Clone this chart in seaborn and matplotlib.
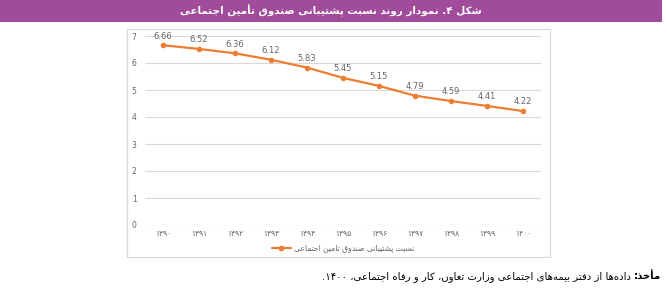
import re
import numpy as np
import pandas as pd
import seaborn as sns
import matplotlib.pyplot as plt
from matplotlib.patches import Rectangle

# ---- data ----
years = [1390, 1391, 1392, 1393, 1394, 1395, 1396, 1397, 1398, 1399, 1400]
ratio = [6.66, 6.52, 6.36, 6.12, 5.83, 5.45, 5.15, 4.79, 4.59, 4.41, 4.22]

title_text = "شکل ۴. نمودار روند نسبت پشتیبانی صندوق تأمین اجتماعی"
legend_text = "نسبت پشتیبانی صندوق تامین اجتماعی"
source_head = "مأخذ:"
source_body = " داده\u200cها از دفتر بیمه\u200cهای اجتماعی وزارت تعاون، کار و رفاه اجتماعی، ۱۴۰۰."

# ---- minimal arabic shaping (matplotlib has no text shaping / bidi) ----
FORMS = {
    'ا': ('\uFE8D', '\uFE8E', None, None),
    'أ': ('\uFE83', '\uFE84', None, None),
    'ب': ('\uFE8F', '\uFE90', '\uFE91', '\uFE92'),
    'پ': ('\uFB56', '\uFB57', '\uFB58', '\uFB59'),
    'ت': ('\uFE95', '\uFE96', '\uFE97', '\uFE98'),
    'ج': ('\uFE9D', '\uFE9E', '\uFE9F', '\uFEA0'),
    'خ': ('\uFEA5', '\uFEA6', '\uFEA7', '\uFEA8'),
    'د': ('\uFEA9', '\uFEAA', None, None),
    'ذ': ('\uFEAB', '\uFEAC', None, None),
    'ر': ('\uFEAD', '\uFEAE', None, None),
    'ز': ('\uFEAF', '\uFEB0', None, None),
    'س': ('\uFEB1', '\uFEB2', '\uFEB3', '\uFEB4'),
    'ش': ('\uFEB5', '\uFEB6', '\uFEB7', '\uFEB8'),
    'ص': ('\uFEB9', '\uFEBA', '\uFEBB', '\uFEBC'),
    'ع': ('\uFEC9', '\uFECA', '\uFECB', '\uFECC'),
    'ف': ('\uFED1', '\uFED2', '\uFED3', '\uFED4'),
    'ق': ('\uFED5', '\uFED6', '\uFED7', '\uFED8'),
    'ک': ('\uFB8E', '\uFB8F', '\uFB90', '\uFB91'),
    'ل': ('\uFEDD', '\uFEDE', '\uFEDF', '\uFEE0'),
    'م': ('\uFEE1', '\uFEE2', '\uFEE3', '\uFEE4'),
    'ن': ('\uFEE5', '\uFEE6', '\uFEE7', '\uFEE8'),
    'ه': ('\uFEE9', '\uFEEA', '\uFEEB', '\uFEEC'),
    'و': ('\uFEED', '\uFEEE', None, None),
    'ی': ('\uFBFC', '\uFBFD', '\uFBFE', '\uFBFF'),
}


def rtl(s):
    out = []
    for i, c in enumerate(s):
        if c not in FORMS:
            out.append(c)
            continue
        prev = s[i - 1] if i > 0 else ''
        nxt = s[i + 1] if i + 1 < len(s) else ''
        jp = prev in FORMS and FORMS[prev][2] is not None
        jn = FORMS[c][2] is not None and nxt in FORMS
        iso, fin, ini, med = FORMS[c]
        out.append(med if jp and jn else fin if jp else ini if jn else iso)
    shaped = ''.join(out).replace('\u200c', '')
    runs = re.findall(r'[0-9۰-۹]+|[^0-9۰-۹]+', shaped)
    return ''.join(r if r[0] in '0123456789۰۱۲۳۴۵۶۷۸۹' else r[::-1]
                   for r in reversed(runs))


def fa_digits(n):
    return str(n).translate(str.maketrans('0123456789', '۰۱۲۳۴۵۶۷۸۹'))


# ---- figure ----
sns.set_style("white")
plt.rcParams['font.family'] = ['DejaVu Sans']

W, H = 667, 293
fig = plt.figure(figsize=(W / 100, H / 100), dpi=100)
fig.patch.set_facecolor('white')

# title bar
fig.patches.append(Rectangle((0, 1 - 22 / H), 662 / W, 22 / H, transform=fig.transFigure,
                             facecolor='#A14C9A', edgecolor='none', zorder=0))
fig.text(331 / W, 1 - 11 / H, rtl(title_text), color='white', fontsize=7.5,
         fontweight='bold', ha='center', va='center')

# chart border
fig.patches.append(Rectangle((127 / W, 1 - 257 / H), 423 / W, 228 / H, transform=fig.transFigure,
                             fill=False, edgecolor='#D9D9D9', linewidth=0.9, zorder=0))

ax = fig.add_axes([145 / W, 1 - 225 / H, 396 / W, 189 / H])
df = pd.DataFrame({'pos': np.arange(len(years)), 'ratio': ratio})
sns.lineplot(data=df, x='pos', y='ratio', marker='o', color='#ED7D31', linewidth=1.6,
             markersize=4, markeredgewidth=0, ax=ax, label=rtl(legend_text))

for i, v in enumerate(ratio):
    ax.text(i, v + 0.17, f"{v:.2f}", ha='center', va='bottom', fontsize=6, color='#666666')

ax.set_xlim(-0.5, len(years) - 0.5)
ax.set_ylim(0, 7)
ax.set_yticks(range(0, 8))
ax.set_xticks(range(len(years)))
ax.set_xticklabels([fa_digits(y) for y in years])
ax.tick_params(axis='both', length=0, labelsize=5.5, labelcolor='#666666')
ax.tick_params(axis='y', pad=6)
ax.tick_params(axis='x', pad=3)
ax.set_xlabel('')
ax.set_ylabel('')
ax.grid(axis='y', color='#D9D9D9', linewidth=0.8)
ax.grid(axis='x', visible=False)
for s in ax.spines.values():
    s.set_visible(False)

ax.legend(loc='center', bbox_to_anchor=(0.5, -0.12), frameon=False, fontsize=5.5,
          labelcolor='#666666', handlelength=2.5, handletextpad=0.4)

# source note
r = fig.canvas.get_renderer()
t1 = fig.text(661 / W, 1 - 277 / H, rtl(source_head), fontsize=7.3, fontweight='bold',
              ha='right', va='center', color='black')
bb = t1.get_window_extent(renderer=r)
fig.text(bb.x0 / W, 1 - 277 / H, rtl(source_body), fontsize=7.3, ha='right', va='center',
         color='black')

fig.savefig('out.png', dpi=100)
